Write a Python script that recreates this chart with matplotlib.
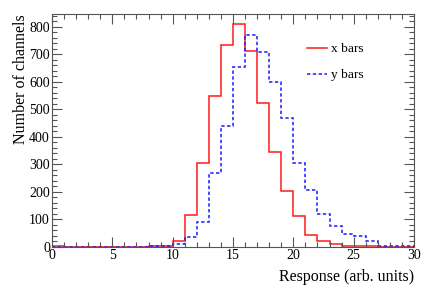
"""
Response histogram of x and y bars, ROOT-like styling.
"""

import matplotlib

matplotlib.use("Agg")
import matplotlib.pyplot as plt
import numpy as np
from matplotlib.ticker import MultipleLocator

BIN_EDGES = np.arange(0, 31, 1)

X_BARS = [3, 1, 1, 1, 1, 1, 1, 1, 2, 2,
          22, 117, 305, 549, 732, 808, 713, 524, 346, 203,
          114, 42, 22, 12, 4, 3, 2, 1, 0, 0]
Y_BARS = [1, 1, 1, 1, 1, 1, 1, 1, 3, 5,
          10, 36, 90, 269, 439, 652, 769, 709, 598, 468,
          305, 207, 121, 76, 46, 39, 22, 5, 5, 2]

LABELS = ["x bars", "y bars"]
XLABEL = "Response (arb. units)"
YLABEL = "Number of channels"

plt.rcParams["font.family"] = ["Liberation Serif", "DejaVu Serif"]

fig = plt.figure(figsize=(4.36, 2.95), dpi=100)
ax = fig.add_axes([0.1193, 0.1627, 0.9495 - 0.1193, 0.9525 - 0.1627])

ax.stairs(X_BARS, BIN_EDGES, color="#ff1a1a", linewidth=1.1, label=LABELS[0])
ax.stairs(Y_BARS, BIN_EDGES, color="#1a1aff", linewidth=1.1, linestyle=(0, (2.2, 1.6)),
          label=LABELS[1])

ax.set_xlim(0, 30)
ax.set_ylim(0, 846)

ax.xaxis.set_major_locator(MultipleLocator(5))
ax.xaxis.set_minor_locator(MultipleLocator(1))
ax.yaxis.set_major_locator(MultipleLocator(100))
ax.yaxis.set_minor_locator(MultipleLocator(20))
ax.tick_params(which="both", direction="in", top=True, right=True, labelsize=10,
               color="#555555", width=0.8)
ax.tick_params(which="major", length=7, pad=1.5)
ax.tick_params(which="minor", length=3.5)
for spine in ax.spines.values():
    spine.set_color("#555555")
    spine.set_linewidth(0.8)

ax.set_xlabel(XLABEL, fontsize=11.5, loc="right", labelpad=5)
ax.set_ylabel(YLABEL, fontsize=11.5, loc="top", labelpad=0)

ax.legend(loc="upper left", bbox_to_anchor=(0.671, 0.928), frameon=False, fontsize=9.7,
          handlelength=1.5, handletextpad=0.3, labelspacing=1.0)

fig.savefig("out.png", dpi=100)
